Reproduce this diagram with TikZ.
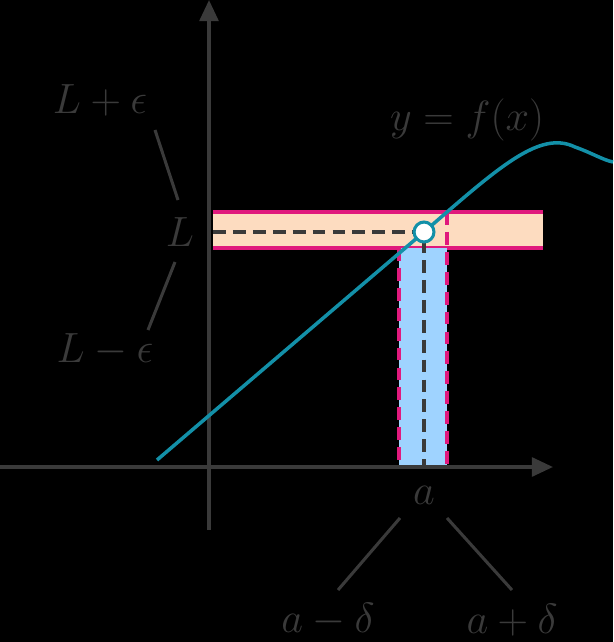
\documentclass[tikz,border=0pt]{standalone}
\usepackage{graphicx}
\usetikzlibrary{arrows.meta}
\definecolor{txt}{HTML}{3A3A3A}
\definecolor{mag}{HTML}{E0197D}
\definecolor{peach}{HTML}{FDDCC0}
\definecolor{sky}{HTML}{9FD3FF}
\definecolor{teal}{HTML}{1390A8}
\newcommand{\lbltext}[1]{\scalebox{1.45}{$#1$}}
\tikzset{lbl/.style={text=txt,font=\Huge},
 ax/.style={txt,line width=3pt,-{Triangle[length=18pt,width=16pt]}},
 lead/.style={txt,line width=2.6pt},
 mdash/.style={mag,line width=2.6pt,dash pattern=on 11pt off 6pt}}
\begin{document}
\begin{tikzpicture}[x=0.03cm,y=-0.03cm]
\fill[black] (0,0) rectangle (613,642);
\useasboundingbox (0,0) rectangle (613,642);
\fill[peach] (213,212) rectangle (543,248);
\draw[mag,line width=2.6pt] (213,212) -- (543,212) (213,248) -- (543,248);
\fill[sky] (399,248) rectangle (447,467);
\draw[mdash] (399,248) -- (399,467);
\draw[mdash] (447,212) -- (447,467);
\draw[txt,line width=2.6pt,dash pattern=on 11pt off 6pt] (213,232) -- (424,232) -- (424,467);
\draw[ax] (0,467) -- (553,467);
\draw[ax] (209,530) -- (209,0);
\draw[teal,line width=3pt] (157,460) -- (424,232) .. controls (500,166) and (540,130) .. (575,147) .. controls (592,153) and (603,160) .. (613,162);
\node[circle,draw=teal,fill=white,line width=2.6pt,minimum size=17pt,inner sep=0] (pt) at (424,232) {};
\node[lbl] (lpe) at (100,100) {\lbltext{L+\epsilon}};
\node[lbl] (l) at (180,232) {\lbltext{L}};
\node[lbl] (lme) at (105,350) {\lbltext{L-\epsilon}};
\node[lbl] (fx) at (467,120) {\lbltext{y=f(x)}};
\node[lbl] (a) at (424,495) {\lbltext{a}};
\node[lbl] (amd) at (328,620) {\lbltext{a-\delta}};
\node[lbl] (apd) at (512,620) {\lbltext{a+\delta}};
\coordinate (c1) at (155,130); \coordinate (c2) at (178,200);
\coordinate (c3) at (175,262); \coordinate (c4) at (148,330);
\coordinate (c5) at (400,518); \coordinate (c6) at (338,590);
\coordinate (c7) at (447,518); \coordinate (c8) at (512,590);
\draw[lead] (c1) -- (c2); \draw[lead] (c3) -- (c4);
\draw[lead] (c5) -- (c6); \draw[lead] (c7) -- (c8);
\end{tikzpicture}
\end{document}
